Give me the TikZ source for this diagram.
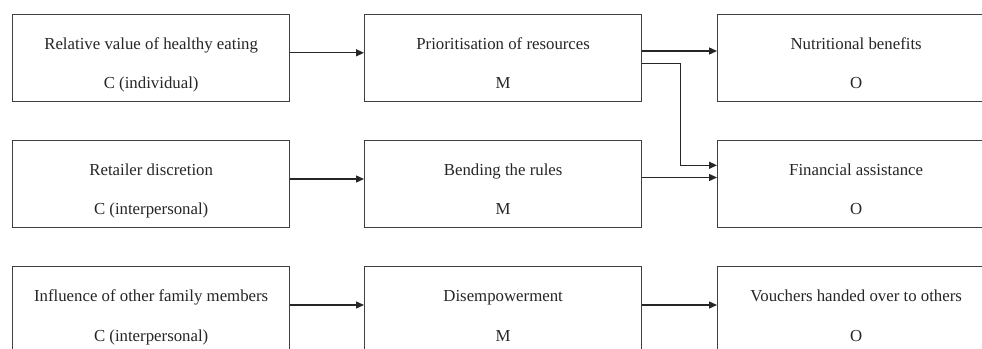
\documentclass[tikz,border=0pt]{standalone}
\usepackage{fontspec}
\setmainfont{Liberation Serif}
\usetikzlibrary{arrows.meta}
\definecolor{boxgray}{RGB}{64,64,64}
\begin{document}
\begin{tikzpicture}[x=1pt,y=-1pt,
  box/.style={draw=boxgray, line width=1.3pt, minimum width=277pt, minimum height=87.5pt, anchor=north west, inner sep=0pt},
  lbl/.style={font=\fontsize{16.8}{20}\selectfont, inner sep=0pt, anchor=base, text=black!85},
  arr/.style={draw=black!85, line width=1.3pt, -{Triangle[length=8pt,width=7pt]}}]
\useasboundingbox (0,0) rectangle (982,348);
\fill[white] (0,0) rectangle (982,348);
\clip (0,0) rectangle (982,348);
% boxes
\node[box] (a1) at (12,13.5) {};
\node[box] (b1) at (364,13.5) {};
\node[box] (c1) at (717,13.5) {};
\node[box] (a2) at (12,139.5) {};
\node[box] (b2) at (364,139.5) {};
\node[box] (c2) at (717,139.5) {};
\node[box] (a3) at (12,266) {};
\node[box] (b3) at (364,266) {};
\node[box] (c3) at (717,266) {};
% labels
\node[lbl] (a1t) at ([yshift=-35.5pt]a1.north) {Relative value of healthy eating};
\node[lbl] (a1s) at ([yshift=-75pt]a1.north) {C (individual)};
\node[lbl] (b1t) at ([yshift=-35.5pt]b1.north) {Prioritisation of resources};
\node[lbl] (b1s) at ([yshift=-75pt]b1.north) {M};
\node[lbl] (c1t) at ([yshift=-35.5pt]c1.north) {Nutritional benefits};
\node[lbl] (c1s) at ([yshift=-75pt]c1.north) {O};
\node[lbl] (a2t) at ([yshift=-35.5pt]a2.north) {Retailer discretion};
\node[lbl] (a2s) at ([yshift=-75pt]a2.north) {C (interpersonal)};
\node[lbl] (b2t) at ([yshift=-35.5pt]b2.north) {Bending the rules};
\node[lbl] (b2s) at ([yshift=-75pt]b2.north) {M};
\node[lbl] (c2t) at ([yshift=-35.5pt]c2.north) {Financial assistance};
\node[lbl] (c2s) at ([yshift=-75pt]c2.north) {O};
\node[lbl] (a3t) at ([yshift=-35.5pt]a3.north) {Influence of other family members};
\node[lbl] (a3s) at ([yshift=-75pt]a3.north) {C (interpersonal)};
\node[lbl] (b3t) at ([yshift=-35.5pt]b3.north) {Disempowerment};
\node[lbl] (b3s) at ([yshift=-75pt]b3.north) {M};
\node[lbl] (c3t) at ([yshift=-35.5pt]c3.north) {Vouchers handed over to others};
\node[lbl] (c3s) at ([yshift=-75pt]c3.north) {O};
% arrows
\draw[arr] ([yshift=-39.3pt]a1.north east) -- ([yshift=-39.3pt]b1.north west);
\draw[arr] ([yshift=-37.5pt]b1.north east) -- ([yshift=-37.5pt]c1.north west);
\draw[arr] ([yshift=-50.2pt]b1.north east) -- ++(38.5pt,0) |- ([yshift=-25.8pt]c2.north west);
\draw[arr] ([yshift=-39.5pt]a2.north east) -- ([yshift=-39.5pt]b2.north west);
\draw[arr] ([yshift=-38pt]b2.north east) -- ([yshift=-38pt]c2.north west);
\draw[arr] ([yshift=-39pt]a3.north east) -- ([yshift=-39pt]b3.north west);
\draw[arr] ([yshift=-39pt]b3.north east) -- ([yshift=-39pt]c3.north west);
\end{tikzpicture}
\end{document}
